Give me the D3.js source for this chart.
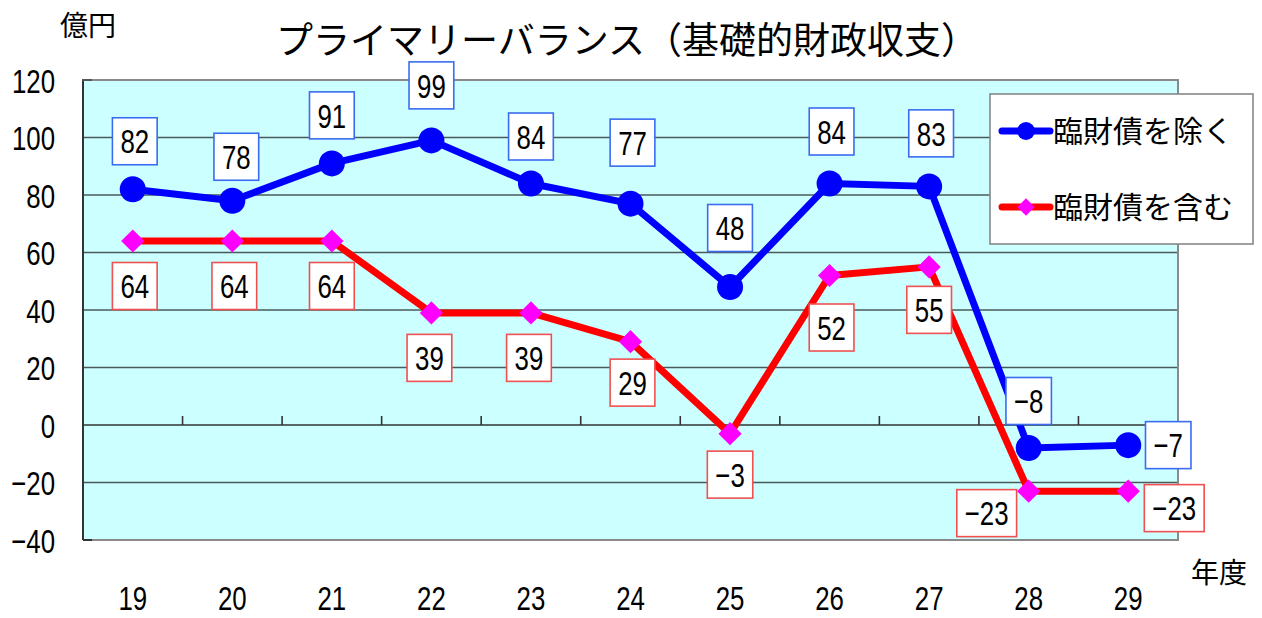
<!DOCTYPE html>
<html><head><meta charset="utf-8">
<script src="https://cdn.jsdelivr.net/npm/d3@7/dist/d3.min.js"></script>
<style>
body{margin:0;background:#fff;}
svg{display:block;}
</style></head>
<body>
<svg id="chart" width="1262" height="618"></svg>
<script>
// ---- data ----
const categories = ["19","20","21","22","23","24","25","26","27","28","29"];
const seriesNames = ["臨財債を除く","臨財債を含む"];
const excluding = [82,78,91,99,84,77,48,84,83,-8,-7];
const including = [64,64,64,39,39,29,-3,52,55,-23,-23];
const yTicks = [-40,-20,0,20,40,60,80,100,120];
const title = "プライマリーバランス（基礎的財政収支）";
const yUnit = "億円";
const xUnit = "年度";
// label nudges (pixels) relative to their points
const exLabelDx = [2,4,0,0,0,2,0,2,2,0,40];
const exLabelDy = [-48,-44,-48,-55,-47,-61,-59,-52,-53,-47,0];
const inLabelDx = [2,2,0,-2,-2,2,0,2,0,-42,46];
const inLabelDy = [45,45,45,45,45,41,41,52,43,22,17];

const NUM_FONT = "'Liberation Sans',Arial,sans-serif";
const NUM_SIZE = 34, NUM_SX = 0.76;
const JP_FONT = "'Noto Sans CJK JP','Noto Sans CJK SC',sans-serif";

const svg = d3.select("#chart");
const L = 83, R = 1178, T = 80, B = 540;
const x = d3.scaleBand().domain(categories).range([L, R]);
const y = d3.scaleLinear().domain([-40, 120]).range([B, T]);
const cx = c => x(c) + x.bandwidth() / 2;
const fmt = d3.format("d");

// background
svg.append("rect").attr("x", L).attr("y", T).attr("width", R - L).attr("height", B - T)
  .attr("fill", "#ccffff");

// gridlines
svg.append("g").selectAll("line")
  .data(yTicks.filter(v => v > -40 && v < 120 && v !== 0))
  .join("line")
  .attr("x1", L).attr("x2", R)
  .attr("y1", d => y(d)).attr("y2", d => y(d))
  .attr("stroke", "#4a5a5a").attr("stroke-width", 1.4);

// borders
svg.append("path")
  .attr("d", `M${L},${T}H${R}V${B}H${L}`)
  .attr("fill", "none").attr("stroke", "#8a8a8a").attr("stroke-width", 2);
svg.append("line").attr("x1", L).attr("x2", L).attr("y1", T).attr("y2", B)
  .attr("stroke", "#333").attr("stroke-width", 2);
svg.append("line").attr("x1", L).attr("x2", L + 9).attr("y1", B).attr("y2", B)
  .attr("stroke", "#333").attr("stroke-width", 2);
svg.append("line").attr("x1", L - 1).attr("x2", L + 9).attr("y1", T).attr("y2", T)
  .attr("stroke", "#555").attr("stroke-width", 2);

// zero axis line with tick marks
svg.append("line").attr("x1", L).attr("x2", R).attr("y1", y(0)).attr("y2", y(0))
  .attr("stroke", "#333").attr("stroke-width", 1.6);
svg.append("g").selectAll("line")
  .data(categories.slice(1))
  .join("line")
  .attr("x1", d => x(d)).attr("x2", d => x(d))
  .attr("y1", y(0)).attr("y2", y(0) - 9)
  .attr("stroke", "#333").attr("stroke-width", 1.6);

// narrow numeric text helper (horizontal condensing of a sans font)
function narrow(sel, xPos) {
  sel.attr("font-family", NUM_FONT).attr("font-size", NUM_SIZE).attr("fill", "#000")
    .attr("x", xPos / NUM_SX)
    .attr("transform", `scale(${NUM_SX},1)`);
}

// y axis labels
const yAxis = svg.append("g").attr("transform", `translate(${L},0)`)
  .call(d3.axisLeft(y).tickValues(yTicks).tickSize(0).tickPadding(28).tickFormat(fmt));
yAxis.select(".domain").remove();
yAxis.selectAll("text").call(narrow, -28).attr("dy", "0.36em");

// x axis labels
const xAxis = svg.append("g").attr("transform", `translate(0,${B})`)
  .call(d3.axisBottom(x).tickSize(0).tickPadding(46));
xAxis.select(".domain").remove();
xAxis.selectAll("text").call(narrow, 0);

// title & units
svg.append("text").attr("x", 627).attr("y", 54).attr("text-anchor", "middle")
  .attr("font-family", JP_FONT).attr("font-size", 37).attr("font-weight", 400)
  .attr("fill", "#000").text(title);
svg.append("text").attr("x", 60).attr("y", 36)
  .attr("font-family", JP_FONT).attr("font-size", 28).attr("fill", "#000").text(yUnit);
svg.append("text").attr("x", 1191).attr("y", 583)
  .attr("font-family", JP_FONT).attr("font-size", 28).attr("fill", "#000").text(xUnit);

// lines
const line = d3.line().x((d, i) => cx(categories[i])).y(d => y(d));
svg.append("path").datum(including).attr("d", line)
  .attr("fill", "none").attr("stroke", "#ff0000").attr("stroke-width", 7).attr("stroke-linejoin", "round");
svg.append("path").datum(excluding).attr("d", line)
  .attr("fill", "none").attr("stroke", "#0000ff").attr("stroke-width", 7).attr("stroke-linejoin", "round");

// markers
const diamond = d3.symbol().type(d3.symbolSquare).size(270);
svg.append("g").selectAll("path").data(including).join("path")
  .attr("d", diamond)
  .attr("transform", (d, i) => `translate(${cx(categories[i])},${y(d)}) rotate(45)`)
  .attr("fill", "#ff00ff");
svg.append("g").selectAll("circle").data(excluding).join("circle")
  .attr("cx", (d, i) => cx(categories[i])).attr("cy", d => y(d)).attr("r", 13)
  .attr("fill", "#0000ff");

// data labels
function labels(values, dxs, dys, stroke) {
  const g = svg.append("g");
  values.forEach((v, i) => {
    const px = cx(categories[i]) + dxs[i];
    const py = y(v) + dys[i];
    const lg = g.append("g").attr("transform", `translate(${px},${py})`);
    const rect = lg.append("rect").attr("fill", "#fff").attr("stroke", stroke).attr("stroke-width", 1.6);
    const t = lg.append("text").attr("text-anchor", "middle").attr("dy", "0.36em")
      .call(narrow, 0).text(fmt(v));
    const w = t.node().getComputedTextLength() * NUM_SX + 16;
    const h = 47;
    rect.attr("x", -w / 2).attr("y", -h / 2).attr("width", w).attr("height", h);
  });
}
labels(excluding, exLabelDx, exLabelDy, "#3a6cf0");
labels(including, inLabelDx, inLabelDy, "#f05050");

// legend
const lg = svg.append("g");
lg.append("rect").attr("x", 990).attr("y", 94).attr("width", 263).attr("height", 150)
  .attr("fill", "#fff").attr("stroke", "#888").attr("stroke-width", 1.6);
const legendRows = [
  {name: seriesNames[0], color: "#0000ff", marker: "circle", yy: 131},
  {name: seriesNames[1], color: "#ff0000", marker: "diamond", yy: 207}
];
legendRows.forEach(r => {
  lg.append("line").attr("x1", 1002).attr("x2", 1050).attr("y1", r.yy).attr("y2", r.yy)
    .attr("stroke", r.color).attr("stroke-width", 7).attr("stroke-linecap", "round");
  if (r.marker === "circle") {
    lg.append("circle").attr("cx", 1026).attr("cy", r.yy).attr("r", 9).attr("fill", "#0000ff");
  } else {
    lg.append("path").attr("d", d3.symbol().type(d3.symbolSquare).size(150))
      .attr("transform", `translate(1026,${r.yy}) rotate(45)`).attr("fill", "#ff00ff");
  }
  lg.append("text").attr("x", 1053).attr("y", r.yy).attr("dy", "0.36em")
    .attr("font-family", JP_FONT).attr("font-size", 30).attr("fill", "#000").text(r.name);
});
</script>
</body></html>
